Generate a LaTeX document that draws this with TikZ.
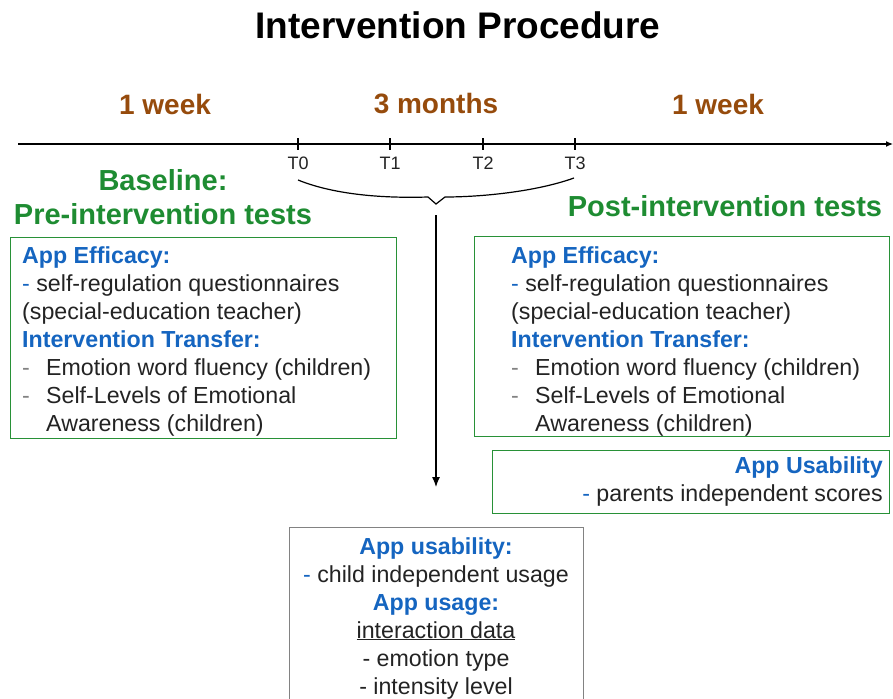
\documentclass[tikz,border=0pt]{standalone}
\usepackage{fontspec}
\setmainfont{Liberation Sans}
\usetikzlibrary{arrows.meta}
\definecolor{tblue}{RGB}{21,101,192}
\definecolor{tgreen}{RGB}{30,140,50}
\definecolor{bgreen}{RGB}{40,145,55}
\definecolor{tbrown}{RGB}{150,75,12}
\definecolor{tgray}{RGB}{130,130,130}
\definecolor{ttext}{RGB}{35,35,35}
\newcommand\bodyf{\fontsize{23.2}{28}\selectfont}
\newcommand\hd[1]{\textcolor{tblue}{\textbf{#1}}}
\newcommand\bd{\textcolor{tblue}{-}}
\newcommand\gd{\makebox[24pt][l]{\textcolor{tgray}{-}}}
\begin{document}
\begin{tikzpicture}[x=1pt,y=-1pt,
  period/.style={font=\fontsize{28}{30}\selectfont\bfseries, text=tbrown},
  phase/.style={font=\fontsize{29}{34}\selectfont\bfseries, text=tgreen},
  tlabel/.style={font=\fontsize{18}{20}\selectfont, text=ttext},
  gbox/.style={draw=bgreen, line width=1.3pt, inner sep=0pt, anchor=north west},
  graybox/.style={draw=tgray, line width=1.3pt, inner sep=0pt, anchor=north west},
  boxtext/.style={font=\bodyf, text=ttext, inner sep=0pt},
  line/.style={line width=1.2pt, black}
]
\useasboundingbox (0,0) rectangle (893,698);

\node[font=\fontsize{37}{40}\selectfont\bfseries] (title) at (458,25) {Intervention Procedure};

\node[period] (w1) at (165,104) {1 week};
\node[period] (m3) at (436,104) {3 months};
\node[period] (w2) at (718,104) {1 week};

% timeline
\coordinate (tlA) at (18,144);
\coordinate (tlB) at (893,144);
\draw[line, -{Latex[length=7pt,width=6pt]}] (tlA) -- (tlB);
\foreach \n/\x in {0/298,1/390,2/483,3/575}{
  \coordinate (t\n) at (\x,144);
  \draw[line] (\x,138) -- (\x,150);
  \node[tlabel] (lab\n) at (\x,163) {T\n};
}

% brace with notch
\coordinate (b0) at (298,180);
\coordinate (b1) at (574,178);
\coordinate (vL) at (428,197);
\coordinate (vT) at (436,204);
\coordinate (vR) at (445,197);
\draw[line] (b0) .. controls (340,197) and (395,198) .. (vL) -- (vT) -- (vR)
  .. controls (480,197) and (535,192) .. (b1);

% phases
\node[phase] (base) at (163,180) {Baseline:};
\node[phase] (pre) at (163,214) {Pre-intervention tests};
\node[phase] (post) at (725,206) {Post-intervention tests};

% left box
\node[gbox, minimum width=386pt, minimum height=201pt] (lbox) at (10,237) {};
\node[boxtext, anchor=north west, align=left] (ltext) at (22,246) {%
\hd{App Efficacy:}\\
\bd{} self-regulation questionnaires\\
(special-education teacher)\\
\hd{Intervention Transfer:}\\
\gd Emotion word fluency (children)\\
\gd Self-Levels of Emotional\\
\hspace*{24pt}Awareness (children)};

% right box
\node[gbox, minimum width=415pt, minimum height=200pt] (rbox) at (474,236) {};
\node[boxtext, anchor=north west, align=left] (rtext) at (511,246) {%
\hd{App Efficacy:}\\
\bd{} self-regulation questionnaires\\
(special-education teacher)\\
\hd{Intervention Transfer:}\\
\gd Emotion word fluency (children)\\
\gd Self-Levels of Emotional\\
\hspace*{24pt}Awareness (children)};

% usability box
\node[gbox, minimum width=397pt, minimum height=63pt] (ubox) at (492,450) {};
\node[boxtext, anchor=north east, align=right] (utext) at (883,456) {%
\hd{App Usability}\\
\bd{} parents independent scores};

% arrow down
\coordinate (aTop) at (436,215);
\node[graybox, minimum width=294pt, minimum height=200pt] (bbox) at (289,527) {};
\draw[line, -{Latex[length=10pt,width=8pt]}] (aTop) -- (436,487);

\node[boxtext, anchor=north, align=center] (btext) at (436,537) {%
\hd{App usability:}\\
\bd{} child independent usage\\
\hd{App usage:}\\
\underline{interaction data}\\
- emotion type\\
- intensity level};
\end{tikzpicture}
\end{document}
